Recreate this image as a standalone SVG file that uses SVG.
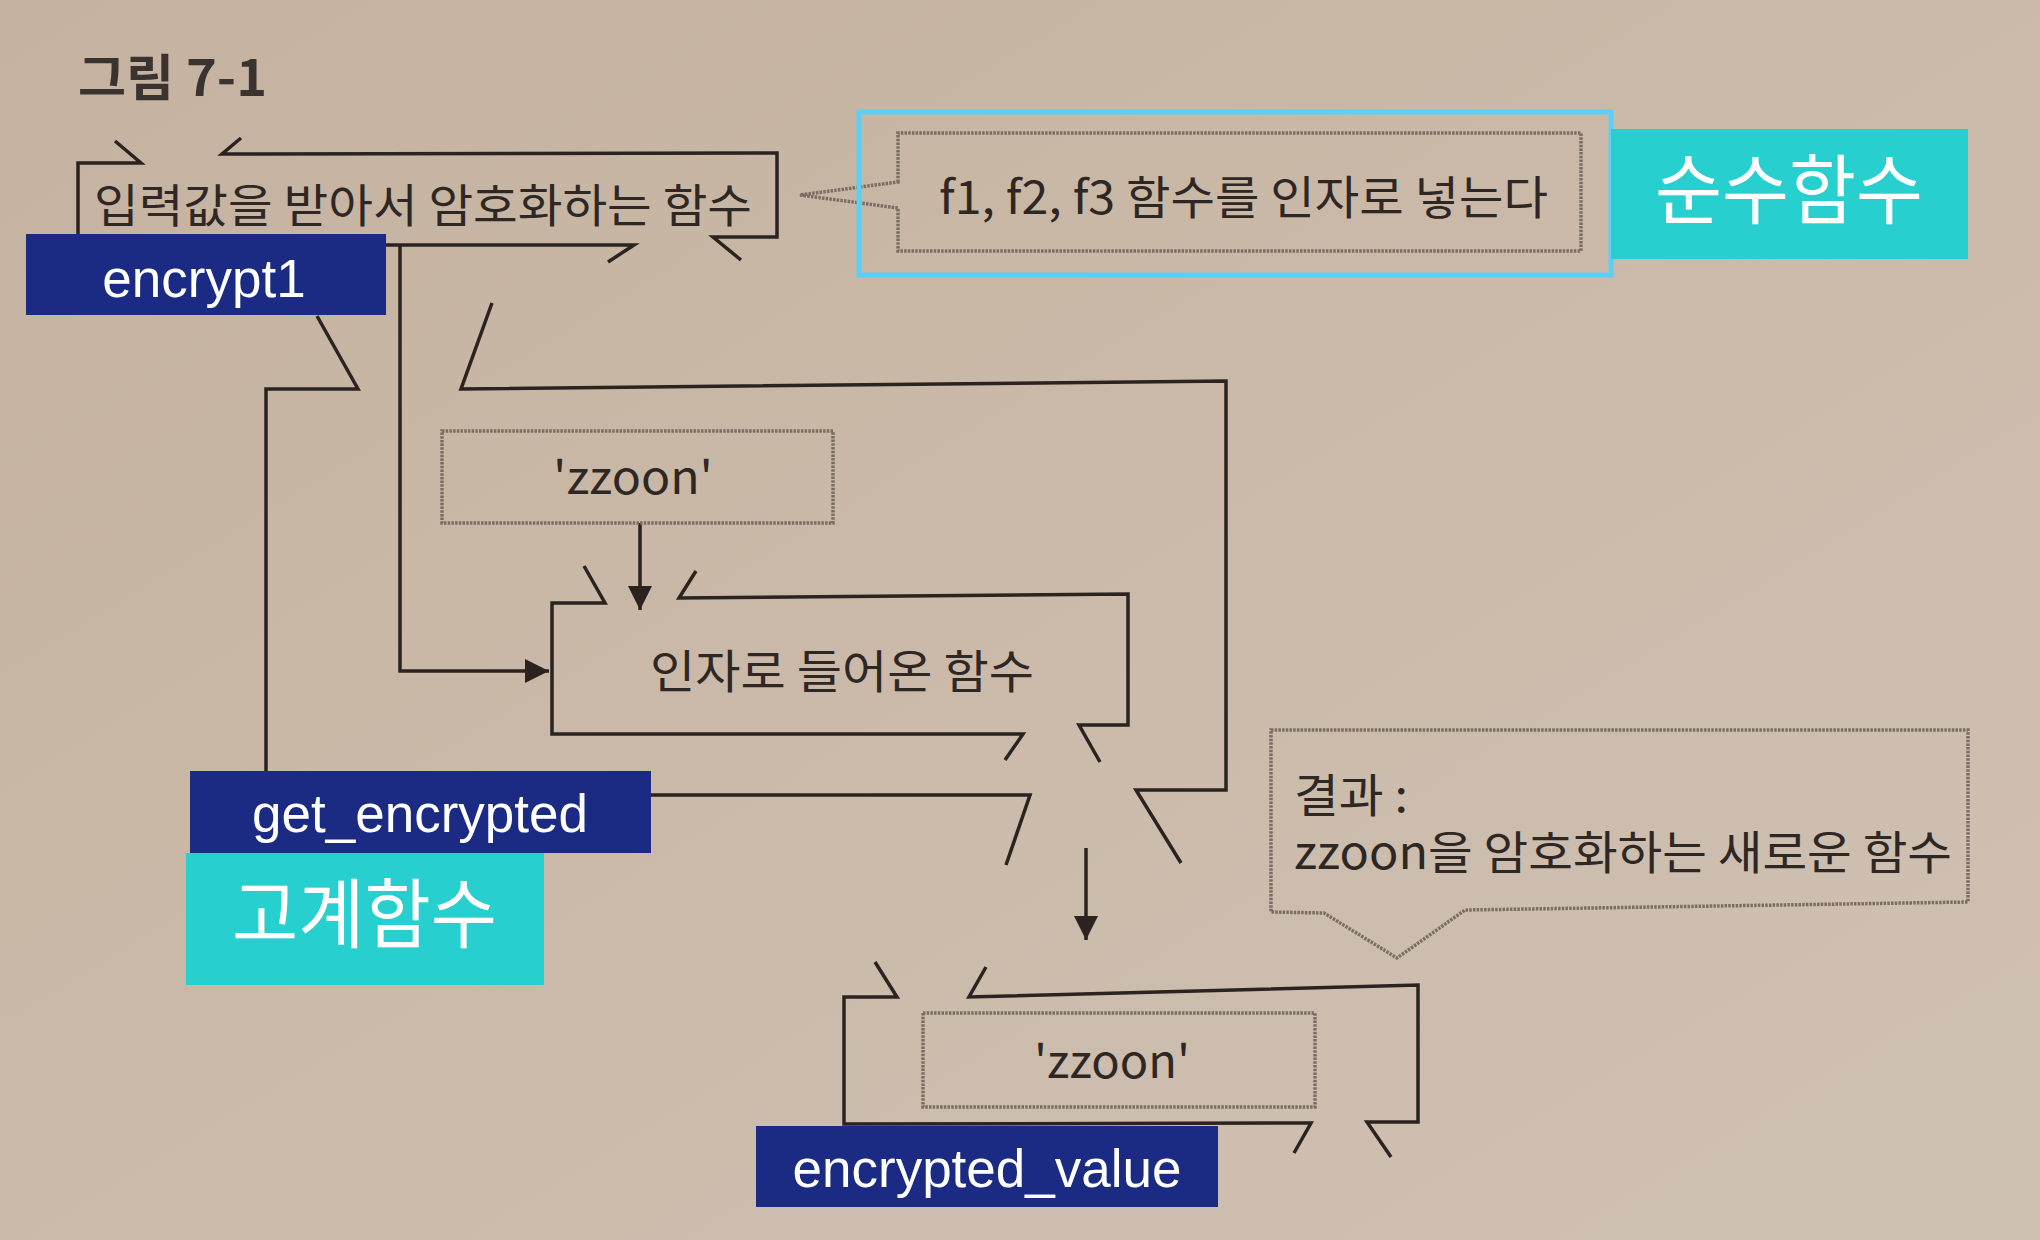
<svg xmlns="http://www.w3.org/2000/svg" width="2040" height="1240" viewBox="0 0 2040 1240">
<defs>
<linearGradient id="bg" x1="0" y1="0" x2="1" y2="1">
<stop offset="0" stop-color="#c5b2a0"/>
<stop offset="0.5" stop-color="#cbbaa9"/>
<stop offset="1" stop-color="#cfc1b4"/>
</linearGradient>
<marker id="ah" viewBox="0 0 10 10" refX="10" refY="5" markerWidth="7" markerHeight="7" markerUnits="strokeWidth" orient="auto">
<path d="M0,0 L10,5 L0,10 Z" fill="#2a2320"/>
</marker>
</defs>
<style>
.ln{fill:none;stroke:#2a2320;stroke-width:3.5;stroke-linejoin:miter}
.dot{fill:none;stroke:#7a6d64;stroke-width:3.5;stroke-dasharray:2.5 1.2}
.kt{font-family:"Noto Sans CJK KR","Noto Sans",sans-serif;font-size:46px;fill:#2e2724}
.lb{font-family:"Liberation Sans",Arial,sans-serif;font-size:53px;fill:#ffffff}
.tl{font-family:"Noto Sans CJK KR","Noto Sans",sans-serif;font-size:76px;fill:#ffffff}
.blue{fill:#1b2a83}
.teal{fill:#27cfcf}
</style>
<rect x="0" y="0" width="2040" height="1240" fill="url(#bg)"/>
<text x="78" y="96" font-family="'Noto Sans CJK KR',sans-serif" font-size="50" font-weight="bold" fill="#3b3330" textLength="189" lengthAdjust="spacingAndGlyphs">그림 7-1</text>

<g id="connectors">
<path class="ln" d="M400,245 L400,671 L549,671" marker-end="url(#ah)"/>
<path class="ln" d="M640,523 L640,610" marker-end="url(#ah)"/>
<path class="ln" d="M1086,848 L1086,940" marker-end="url(#ah)"/>
</g>

<g id="get_encrypted">
<path class="ln" d="M317,316 L358,389 L266,389 L266,795 L1030,795 L1006,865"/>
<path class="ln" d="M492,303 L461,389 L1226,381 L1226,790 L1136,790 L1181,863"/>
<rect class="blue" x="190" y="771" width="461" height="82"/>
<text class="lb" x="420" y="832" text-anchor="middle">get_encrypted</text>
<rect class="teal" x="186" y="853" width="358" height="132"/>
<text class="tl" x="232" y="942" textLength="265" lengthAdjust="spacingAndGlyphs">고계함수</text>
</g>

<g id="encrypt1">
<path class="ln" d="M115,141 L141,163 L78,163 L78,245 L634,245 L608,262"/>
<path class="ln" d="M241,138 L222,154 L777,153 L777,237 L713,237 L741,260"/>
<text class="kt" x="94" y="222" textLength="658" lengthAdjust="spacingAndGlyphs">입력값을 받아서 암호화하는 함수</text>
<rect class="blue" x="26" y="234" width="360" height="81"/>
<text class="lb" x="204" y="297" text-anchor="middle">encrypt1</text>
</g>

<g id="pure-note">
<path class="dot" d="M898,182 L898,133 L1581,133 L1581,251 L898,251 L898,208 L800,195 Z"/>
<text class="kt" x="939" y="214" textLength="609" lengthAdjust="spacingAndGlyphs">f1, f2, f3 함수를 인자로 넣는다</text>
<rect x="859" y="112" width="752" height="163" fill="none" stroke="#5ccff4" stroke-width="5"/>
<rect class="teal" x="1611" y="129" width="357" height="130"/>
<text class="tl" x="1655" y="218" textLength="268" lengthAdjust="spacingAndGlyphs">순수함수</text>
</g>

<g id="zzoon-input">
<rect class="dot" x="442" y="431" width="391" height="92"/>
<text class="kt" x="553" y="494" font-size="44" textLength="160" lengthAdjust="spacingAndGlyphs">'zzoon'</text>
</g>

<g id="arg-function">
<path class="ln" d="M584,566 L605,603 L552,603 L552,734 L1023,734 L1005,760"/>
<path class="ln" d="M696,571 L679,598 L1128,594 L1128,725 L1079,725 L1100,762"/>
<text class="kt" x="650" y="688" textLength="384" lengthAdjust="spacingAndGlyphs">인자로 들어온 함수</text>
</g>

<g id="result-note">
<path class="dot" d="M1271,730 L1968,730 L1968,902 L1465,910 L1397,958 L1324,913 L1271,912 Z"/>
<text class="kt" x="1294" y="812" textLength="114" lengthAdjust="spacingAndGlyphs">결과 :</text>
<text class="kt" x="1294" y="869" textLength="658" lengthAdjust="spacingAndGlyphs">zzoon을 암호화하는 새로운 함수</text>
</g>

<g id="encrypted_value">
<path class="ln" d="M875,962 L897,997 L844,997 L844,1124 L1311,1123 L1294,1153"/>
<path class="ln" d="M986,967 L969,997 L1418,985 L1418,1122 L1367,1122 L1391,1157"/>
<rect class="dot" x="923" y="1013" width="392" height="94"/>
<text class="kt" x="1034" y="1078" font-size="44" textLength="156" lengthAdjust="spacingAndGlyphs">'zzoon'</text>
<rect class="blue" x="756" y="1126" width="462" height="81"/>
<text class="lb" x="987" y="1187" text-anchor="middle">encrypted_value</text>
</g>
</svg>
